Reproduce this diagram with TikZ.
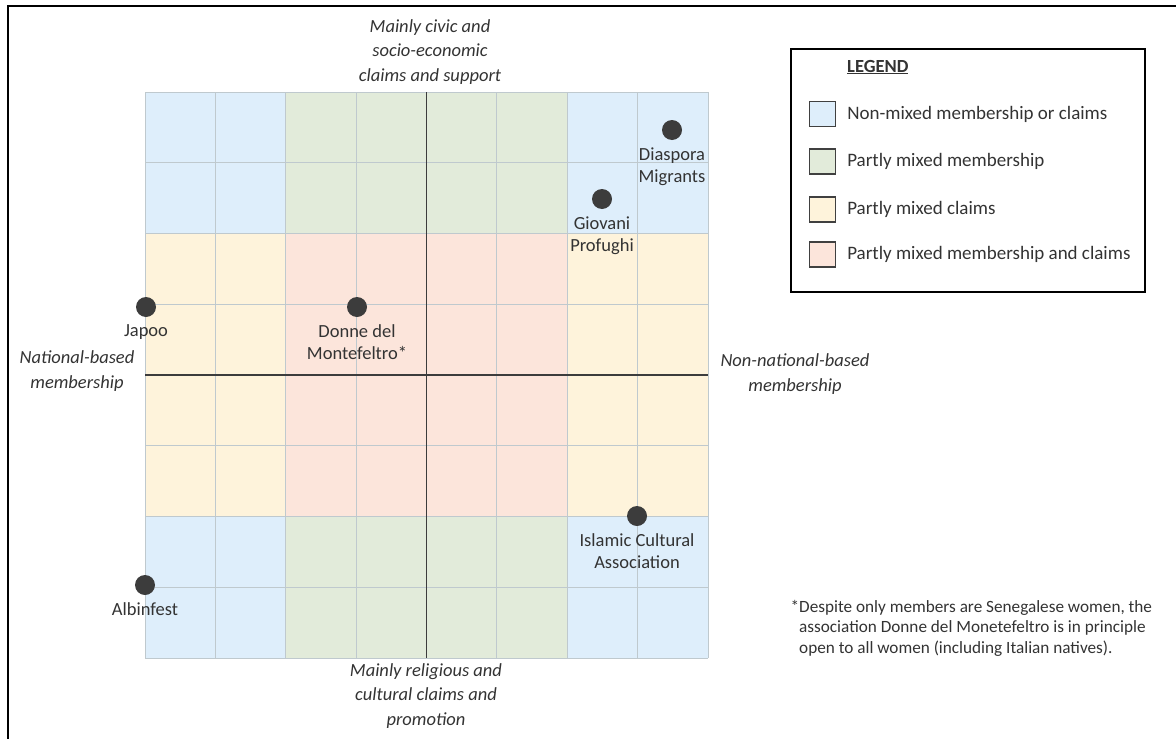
\documentclass[tikz,border=0pt]{standalone}
\usepackage{fontspec}
\setmainfont{Carlito}
\usetikzlibrary{positioning}
\definecolor{nonmixed}{HTML}{DEEEFB}
\definecolor{mixedmem}{HTML}{E2EBDA}
\definecolor{mixedclaim}{HTML}{FEF3DB}
\definecolor{mixedboth}{HTML}{FCE5DB}
\definecolor{gridgray}{HTML}{BFC9CE}
\definecolor{dotgray}{HTML}{3C3C3C}
\definecolor{textgray}{HTML}{333333}
\newcommand{\region}[5]{ \fill[#5] ( #1 , #2 ) rectangle ( #3 , #4 );}
\newcommand{\orgvertex}[4]{ \node[orgdot] (#1) at ( #2 , #3 ) {}; \node[orglabel, below=7pt of #1] (#1-lbl) {#4};}

\begin{document}
\begin{tikzpicture}[x=1pt,y=-1pt,
  orgdot/.style={circle,fill=dotgray,inner sep=0pt,minimum size=20pt},
  orglabel/.style={align=center,inner sep=0pt,text=textgray,font=\fontsize{18.5}{22.5}\selectfont},
  axislabel/.style={align=center,inner sep=0pt,text=textgray,font=\itshape\fontsize{18.5}{24.5}\selectfont},
  swatch/.style={draw=black!75,line width=1.2pt,minimum width=26pt,minimum height=25pt,inner sep=0pt},
  legtext/.style={anchor=west,inner sep=0pt,text=textgray,font=\fontsize{19}{22}\selectfont}]
\useasboundingbox (0,0) rectangle (1176,739);
% outer frame
\draw[line width=1.6pt] (1180,6) -- (8,6) -- (8,745);
% coloured regions of the grid
\region{145}{92}{286}{233.5}{nonmixed}
\region{567}{92}{708}{233.5}{nonmixed}
\region{145}{516.5}{286}{658}{nonmixed}
\region{567}{516.5}{708}{658}{nonmixed}
\region{286}{92}{567}{233.5}{mixedmem}
\region{286}{516.5}{567}{658}{mixedmem}
\region{145}{233.5}{286}{516.5}{mixedclaim}
\region{567}{233.5}{708}{516.5}{mixedclaim}
\region{286}{233.5}{567}{516.5}{mixedboth}
% grid lines
\foreach \k in {0,...,8} {
  \draw[gridgray,line width=0.9pt] ({145+70.375*\k},92) -- ({145+70.375*\k},658);
  \draw[gridgray,line width=0.9pt] (145,{92+70.75*\k}) -- (708,{92+70.75*\k});
}
% axes
\coordinate (top) at (426.5,92);
\coordinate (bottom) at (426.5,658);
\coordinate (left) at (145,375);
\coordinate (right) at (708,375);
\draw[dotgray,line width=1.8pt] (top) -- (bottom);
\draw[dotgray,line width=1.8pt] (left) -- (right);
% axis labels
\node[axislabel] (civic) at (430,52) {Mainly civic and\\socio-economic\\claims and support};
\node[axislabel] (religious) at (426,696) {Mainly religious and\\cultural claims and\\promotion};
\node[axislabel] (national) at (77,371) {National-based\\membership};
\node[axislabel] (nonnational) at (795,374) {Non-national-based\\membership};
% associations
\orgvertex{diaspora}{672}{130}{Diaspora\\Migrants}
\orgvertex{giovani}{602}{199}{Giovani\\Profughi}
\orgvertex{japoo}{146}{307}{Japoo}
\orgvertex{donne}{357}{307}{Donne del\\Montefeltro*}
\orgvertex{islamic}{637}{516}{Islamic Cultural\\Association}
\orgvertex{albinfest}{145}{585}{Albinfest}
% legend
\draw[line width=1.4pt] (791,49) rectangle (1145,292);
\node[legtext,font=\bfseries\fontsize{18.5}{22}\selectfont] (legend) at (847,67) {\underline{LEGEND}};
\node[swatch,fill=nonmixed] (sw1) at (822.5,114) {};
\node[swatch,fill=mixedmem] (sw2) at (822.5,161.5) {};
\node[swatch,fill=mixedclaim] (sw3) at (822.5,209.5) {};
\node[swatch,fill=mixedboth] (sw4) at (822.5,254.5) {};
\node[legtext,right=11pt of sw1] (leg1) {Non-mixed membership or claims};
\node[legtext,right=11pt of sw2] (leg2) {Partly mixed membership};
\node[legtext,right=11pt of sw3] (leg3) {Partly mixed claims};
\node[legtext,right=11pt of sw4] (leg4) {Partly mixed membership and claims};
% footnote
\node[anchor=north west,align=left,inner sep=0pt,text=textgray,font=\fontsize{17.2}{20.5}\selectfont] (note) at (799,600)
  {\llap{*}Despite only members are Senegalese women, the\\ association Donne del Monetefeltro is in principle\\ open to all women (including Italian natives).};
\end{tikzpicture}
\end{document}
